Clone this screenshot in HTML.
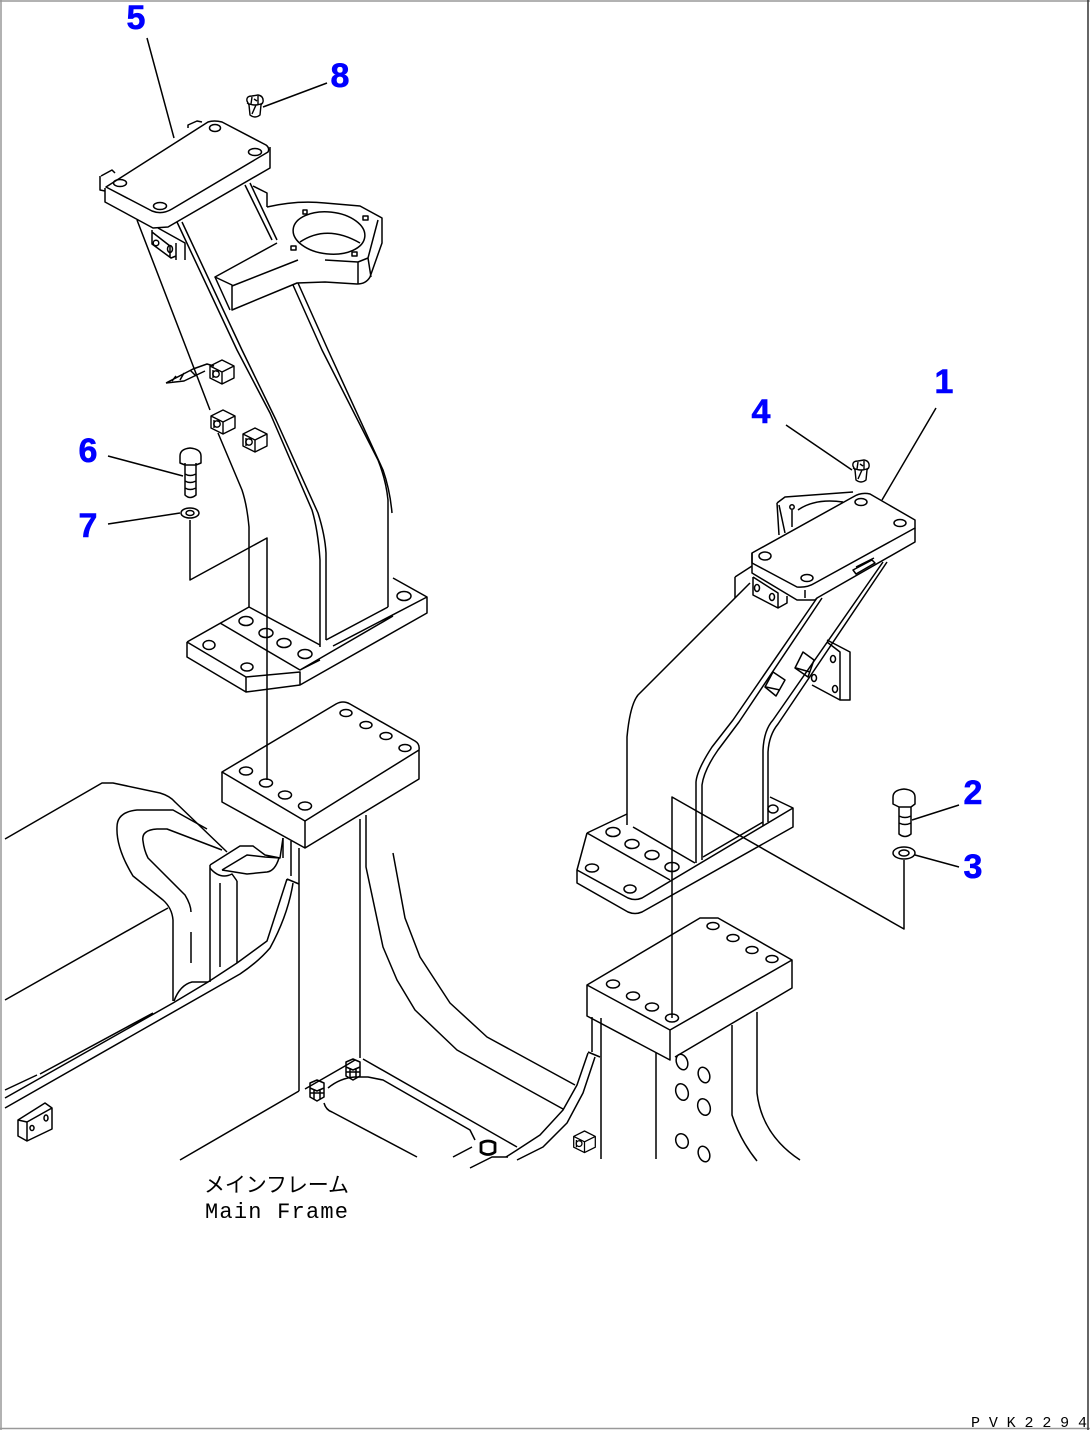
<!DOCTYPE html>
<html><head><meta charset="utf-8"><title>Main Frame</title>
<style>
html,body{margin:0;padding:0;background:#fff}
svg{display:block}
.n{font-family:"Liberation Sans",sans-serif;font-weight:bold;font-size:34px;fill:#0000ff;stroke:#0000ff;stroke-width:.6;text-anchor:middle}
</style></head><body>
<svg xmlns="http://www.w3.org/2000/svg" width="1090" height="1430" viewBox="0 0 1090 1430">
<defs>
<g id="cube" fill="none" stroke="#000" stroke-width="1.4">
<path d="M0,-12 L12,-6 V6 L0,12 L-12,6 V-6 Z M-12,-6 L0,0 L12,-6 M0,0 V12"/>
<circle cx="-6" cy="2" r="3.2"/>
<path d="M-9,-2 V6 M-3,-1 H-6"/>
</g>
<g id="mnut" fill="none" stroke="#000" stroke-width="1.5">
<path d="M-7,-8 L0,-11 L7,-8 V6 L0,10 L-7,6 Z M-7,-3 L0,0 L7,-3 M-3,-2 V8 M3,-2 V8 M-7,2 H7"/>
</g>
<g id="cap" fill="none" stroke="#000" stroke-width="1.4">
<path d="M-8,-6 Q-9,-11 -3,-11 L3,-12 Q9,-11 8,-5 L6,-2 L5,8 Q0,12 -5,8 L-6,-2 Z M-8,-4 Q0,0 8,-4 M-3,-10 L-4,-3 M3,-11 L3,-3 M1,-2 L-3,7 M-1,-8 L2,-6"/>
</g>
</defs>
<rect width="1090" height="1430" fill="#fff"/>
<path d="M0,1 H1090 M1,0 V1430 M0,1428.5 H1090" stroke="#999" stroke-width="1.5" fill="none"/>
<path d="M1088,0 V1430" stroke="#333" stroke-width="1.5" fill="none"/>

<g fill="none" stroke="#000" stroke-width="1.5" stroke-linejoin="round">
<!-- LEFT BRACKET: plate -->
<path d="M106,187 L208,122 Q214,120 222,122 L266,145 Q270,148 268,152 L172,209 Q162,215 152,211 Z"/>
<path d="M105,188 V202 L153,228 L168,227 L270,168 V147"/>
<path d="M101,176 L112,170 L115,173 M100,176 V190 L105,191 M188,128 V125 L197,121 L202,122"/>
<ellipse cx="120" cy="183" rx="6.5" ry="3.5"/><ellipse cx="160" cy="206" rx="6.5" ry="3.5"/>
<ellipse cx="255" cy="152" rx="6.5" ry="3.5"/><ellipse cx="215" cy="128" rx="5.5" ry="3.5"/>
<!-- lug -->
<path d="M152,230 V244 L171,258 L176,256 M158,228 L185,243 V260 M176,243 V260 M152,232 L170,246 V258"/>
<circle cx="156" cy="243" r="2.8"/><ellipse cx="170" cy="249" rx="2.5" ry="3.5"/>
<!-- column left -->
<path d="M137,220 L187,350 L210,410 M218,433 L242,490 Q247,505 249,527 V607"/>
<path d="M177,222 L237,350 L270,413 L312,510 Q318,530 320,560 V647"/>
<path d="M182,222 L242,350 L276,420 L318,513 Q325,535 326,553 V640"/>
<path d="M293,285 L322,350 L378,460 Q386,480 388,500 V607"/>
<path d="M298,283 L328,350 L383,470 Q390,490 392,513"/>
<!-- behind arm -->
<path d="M245,185 L272,240 M250,183 L277,240 M253,186 L267,193 V207"/>
<!-- ring arm -->
<path d="M267,207 Q297,200 325,203 L360,206 L382,218 V243 L370,277 Q366,284 357,284 L325,282 L297,283 L232,310 V285 L215,277 L277,243"/>
<path d="M232,286 L298,260 M325,260 L358,262 V284 M358,262 L368,258 L378,220 M215,277 L230,310 M368,258 L371,277"/>
<ellipse cx="329" cy="233" rx="36" ry="21" transform="rotate(6 329 233)"/>
<path d="M300,242 Q327,224 360,243"/>
<rect x="303" y="210" width="4" height="4"/><rect x="363" y="216" width="5" height="4"/>
<rect x="291" y="246" width="5" height="4"/><rect x="352" y="252" width="5" height="4"/>
<!-- clip and nuts -->
<path d="M166,383 L193,369 L207,364 L214,366 M166,383 L184,381 L205,371 M172,381 L176,376 M180,380 L184,373 M190,370 L196,376"/>
<use href="#cube" x="222" y="372"/><use href="#cube" x="223" y="422"/><use href="#cube" x="255" y="440"/>
<!-- base plate left -->
<path d="M187,642 L249,607 L320,645 M220,623 L300,670 L393,616 M187,642 L246,677 L300,672 V685 L246,692 V677 M187,642 V657 L246,692 M326,640 L388,607 M393,578 L427,597 V613 L300,685 M427,597 L333,646 M300,670 L320,660"/>
<ellipse cx="246" cy="621" rx="7" ry="4.5"/><ellipse cx="266" cy="633" rx="7" ry="4.5"/>
<ellipse cx="284" cy="643" rx="7" ry="4.5"/><ellipse cx="305" cy="654" rx="7" ry="4.5"/>
<ellipse cx="209" cy="645" rx="6" ry="4.5"/><ellipse cx="247" cy="667" rx="6" ry="4"/>
<ellipse cx="404" cy="596" rx="7" ry="4.5"/>
<!-- block left -->
<path d="M222,772 L336,704 Q343,700 350,704 L415,741 Q420,744 419,750 L305,821 Z"/>
<path d="M222,772 V802 L305,848 L419,779 V750 M305,821 V848"/>
<ellipse cx="246" cy="771" rx="6.5" ry="4"/><ellipse cx="266" cy="783" rx="6.5" ry="4"/>
<ellipse cx="285" cy="795" rx="6.5" ry="4"/><ellipse cx="305" cy="806" rx="6.5" ry="4"/>
<ellipse cx="346" cy="713" rx="6" ry="3.5"/><ellipse cx="366" cy="725" rx="6" ry="3.5"/>
<ellipse cx="386" cy="736" rx="6" ry="3.5"/><ellipse cx="405" cy="748" rx="6" ry="3.5"/>
<!-- column under block -->
<path d="M299,848 V1091 M291,841 V876 M283,838 V858 M360,819 V1058 M366,815 V867 L383,947 L397,980 L415,1010 L457,1050 L507,1078 L563,1109"/>
<path d="M393,853 L405,918 L420,957 L450,1003 L487,1037 L575,1085"/>
<!-- floor -->
<path d="M180,1160 L299,1091 M363,1059 L517,1147 M328,1088 Q340,1078 355,1077 L368,1077 L383,1080 L470,1130 L475,1140 M324,1103 Q326,1110 332,1112 L417,1157 M453,1157 L472,1147 M470,1168 L492,1157 L508,1157"/>
<path d="M305,1089 L345,1066 L355,1060"/>
<use href="#mnut" x="317" y="1091"/><use href="#mnut" x="353" y="1070"/>
<path d="M481,1143 Q488,1139 495,1143 V1152 Q488,1157 481,1152 Z" stroke-width="2.8"/>
<use href="#cube" x="585" y="1142" transform="translate(58 114) scale(.9)"/>
<!-- curved pipes right -->
<path d="M588,1053 L577,1085 L563,1110 L540,1135 L517,1150 L506,1157 M595,1057 L583,1093 L567,1123 L543,1147 L517,1160 M588,1052 L600,1057 M592,1017 V1052"/>
<path d="M601,1018 V1159 M656,1053 V1159 M732,1025 V1115 Q740,1140 757,1161 M757,1012 V1093 Q762,1135 800,1160"/>
<!-- block right -->
<path d="M587,985 L700,918 H718 L792,960 L670,1030 Z M587,985 V1016 L670,1060 V1030 M675,1057 L792,988 V960"/>
<ellipse cx="613" cy="984" rx="6.5" ry="4"/><ellipse cx="633" cy="996" rx="6.5" ry="4"/>
<ellipse cx="652" cy="1007" rx="6.5" ry="4"/><ellipse cx="672" cy="1018" rx="6.5" ry="4"/>
<ellipse cx="713" cy="926" rx="6" ry="3.5"/><ellipse cx="733" cy="938" rx="6" ry="3.5"/>
<ellipse cx="752" cy="950" rx="6" ry="3.5"/><ellipse cx="772" cy="959" rx="6" ry="3.5"/>
<g>
<ellipse cx="682" cy="1062" rx="5.5" ry="8" transform="rotate(-20 682 1062)"/>
<ellipse cx="704" cy="1075" rx="5.5" ry="8" transform="rotate(-20 704 1075)"/>
<ellipse cx="682" cy="1092" rx="6" ry="8.5" transform="rotate(-20 682 1092)"/>
<ellipse cx="704" cy="1107" rx="6" ry="8.5" transform="rotate(-20 704 1107)"/>
<ellipse cx="682" cy="1141" rx="6" ry="7.5" transform="rotate(-25 682 1141)"/>
<ellipse cx="704" cy="1154" rx="5.5" ry="8" transform="rotate(-20 704 1154)"/>
</g>
<!-- base plate right -->
<path d="M587,833 L627,814 M633,827 L695,863 M587,833 L670,880 M587,833 L577,870 V883 L628,912 Q635,915 642,912 L793,827 V808 L770,797 M577,870 L628,898 Q635,901 642,898 L793,808 M703,857 L763,822"/>
<ellipse cx="613" cy="832" rx="7" ry="4.5"/><ellipse cx="632" cy="844" rx="7" ry="4.5"/>
<ellipse cx="652" cy="855" rx="7" ry="4.5"/><ellipse cx="672" cy="867" rx="7" ry="4.5"/>
<ellipse cx="592" cy="868" rx="6.5" ry="4"/><ellipse cx="630" cy="889" rx="6" ry="4"/>
<ellipse cx="773" cy="809" rx="5" ry="4"/>
<!-- column right -->
<path d="M750,583 L638,695 Q630,705 627,737 V825"/>
<path d="M696,863 V782 Q697,770 712,747 L733,720 L817,598"/>
<path d="M702,860 V785 Q704,770 718,750 L739,722 L822,598"/>
<path d="M763,826 V750 Q764,730 773,720 L883,562"/>
<path d="M768,822 V752 Q769,735 778,724 L887,562"/>
<!-- plate right -->
<path d="M752,553 L853,497 Q861,492 870,494 L915,520 V528 L815,583 Q807,588 797,587 L752,563 Z"/>
<path d="M752,553 V573 L797,600 H815 L817,598 L915,542 V528"/>
<ellipse cx="765" cy="556" rx="6" ry="4"/><ellipse cx="807" cy="578" rx="6" ry="3.5"/>
<ellipse cx="861" cy="502" rx="6" ry="3.5"/><ellipse cx="900" cy="523" rx="6" ry="3.5"/>
<path d="M805,590 V598"/>
<path d="M753,577 V595 L778,608 L787,603 V596 M753,577 L778,593 V608 M735,577 V598 M735,577 L752,566"/>
<ellipse cx="757" cy="588" rx="2.5" ry="3.5"/><ellipse cx="772" cy="597" rx="2.5" ry="3.5"/>
<path d="M853,570 L872,560 L875,563 L856,574 Z M856,567 L874,558"/>
<!-- back bracket -->
<path d="M777,503 L785,497 L853,492 M777,503 L779,535 M779,505 L785,533 M792,510 V527 M798,510 Q815,498 843,502"/>
<circle cx="792" cy="507" r="2.2"/>
<!-- side plate right -->
<path d="M827,640 L850,652 V700 L840,700 V652 L827,642 M840,700 L812,685"/>
<ellipse cx="833" cy="659" rx="2.5" ry="3.5"/><ellipse cx="835" cy="689" rx="2.5" ry="3.5"/><ellipse cx="814" cy="678" rx="2.5" ry="3.5"/>
<path d="M803,652 L814,660 L808,677 L795,668 Z M773,672 L785,680 L776,696 L765,687 Z"/>
<path d="M796,668 L810,672 M766,687 L780,690"/>
<!-- tank area left -->
<path d="M5,839 L102,783 H113 L160,793 Q170,796 175,802 L227,852"/>
<path d="M207,829 L173,810 H137 Q117,812 117,827 Q116,848 133,876 L163,900 Q172,908 173,920 V1001"/>
<path d="M222,850 L167,829 H157 Q141,830 143,841 Q144,850 148,858 L185,895 Q191,905 191,912 M191,932 V963"/>
<path d="M5,1000 L157,914 L168,908"/>
<path d="M210,865 V982 M220,883 V967 M237,881 V963"/>
<path d="M210,865 L240,846 H253 L265,855 L280,858 L283,838 M222,870 L247,855 L265,857 L280,858 M222,870 L247,874 L267,872 Q275,871 279,858 M210,868 Q220,880 232,874 L237,881"/>
<path d="M174,1001 Q180,985 192,982 L208,982"/>
<path d="M5,1098 L173,1003 L208,982 L237,963 L267,941 L287,879 M5,1108 L240,974 Q258,962 270,948 Q288,915 293,883 M287,879 L299,884 M5,1090 L37,1075 M40,1074 L153,1013"/>
<!-- small block -->
<path d="M18,1120 L45,1103 L52,1108 V1129 L27,1141 L18,1136 Z M18,1120 L27,1122 L52,1108 M27,1122 V1141"/>
<ellipse cx="32" cy="1128" rx="2" ry="2.5"/><ellipse cx="46" cy="1118" rx="2" ry="3"/>
<!-- bolts -->
<path d="M180,456 Q180,449 190,448 Q201,449 201,456 V463 L196,465 H185 L180,463 Z M185,463 V495 Q190,500 196,495 V463 M185,474 Q190,477 196,474 M185,481 Q190,484 196,481 M185,488 Q190,491 196,488"/>
<ellipse cx="190" cy="513" rx="9" ry="5"/><ellipse cx="190" cy="513" rx="4" ry="2.5"/>
<path d="M893,797 Q893,790 904,789 Q915,790 915,797 V804 L911,807 H899 L893,804 Z M899,807 V834 Q905,839 911,834 V807 M899,816 Q905,819 911,816 M899,823 Q905,826 911,823"/>
<ellipse cx="904" cy="853" rx="11" ry="6"/><ellipse cx="904" cy="853" rx="5" ry="3"/>
<use href="#cap" x="255" y="107"/><use href="#cap" x="861" y="472"/>
<!-- leaders -->
<path d="M147,38 L174,138 M263,107 L327,83 M108,456 L183,476 M108,524 L180,513 M786,425 L852,470 M936,408 L882,500 M912,820 L959,805 M915,855 L959,867"/>
<!-- doglegs -->
<path d="M190,520 V580 L267,538 V780"/>
<path d="M904,860 V929 L672,797 V1018"/>
</g>

<text class="n" x="136" y="29">5</text>
<text class="n" x="340" y="87">8</text>
<text class="n" x="944" y="393">1</text>
<text class="n" x="761" y="423">4</text>
<text class="n" x="88" y="462">6</text>
<text class="n" x="88" y="537">7</text>
<text class="n" x="973" y="804">2</text>
<text class="n" x="973" y="878">3</text>

<text x="204" y="1192" textLength="145" lengthAdjust="spacing" font-family="'Liberation Sans','Noto Sans CJK JP',sans-serif" font-size="21" fill="#000">メインフレーム</text>
<text x="205" y="1218" textLength="143" lengthAdjust="spacing" font-family="'Liberation Mono',monospace" font-size="22" fill="#000">Main Frame</text>
<text x="971" y="1427" textLength="116" lengthAdjust="spacing" font-family="'Liberation Mono',monospace" font-size="15" fill="#000">PVK2294</text>
</svg>
</body></html>
